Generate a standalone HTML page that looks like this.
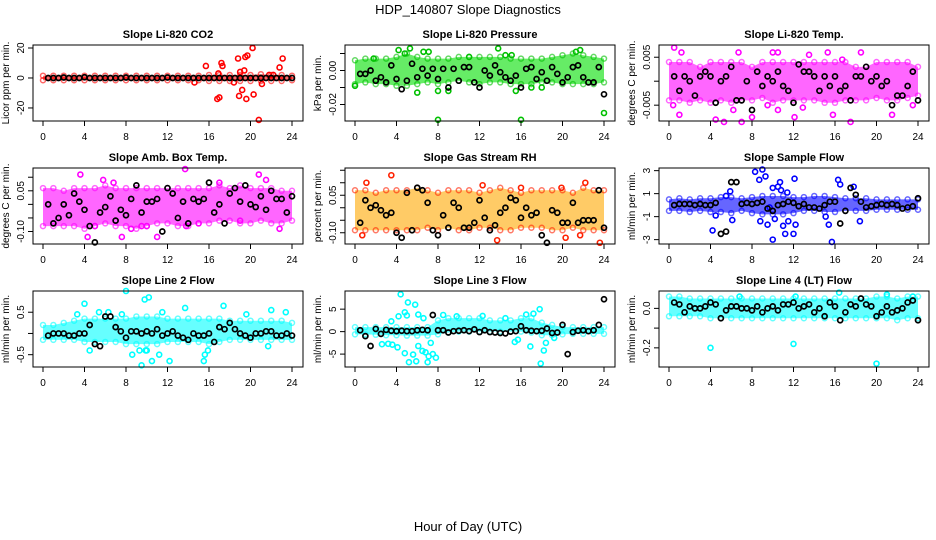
<!DOCTYPE html>
<html><head><meta charset="utf-8"><style>
html,body{margin:0;padding:0;background:#fff;}
svg{display:block;font-family:"Liberation Sans",sans-serif;}
</style></head><body>
<svg id="chart" width="936" height="540" viewBox="0 0 936 540" xmlns="http://www.w3.org/2000/svg">
<rect width="936" height="540" fill="#fff"/>
<text x="468" y="14" font-size="13" text-anchor="middle">HDP_140807  Slope Diagnostics</text>
<text x="468" y="531" font-size="13" text-anchor="middle">Hour of Day (UTC)</text>
</svg>
<script>
const blackHours=[0.5,1,1.5,2,2.5,3,3.5,4,4.5,5,5.5,6,6.5,7,7.5,8,8.5,9,9.5,10,10.5,11,11.5,12,12.5,13,13.5,14,14.5,15,15.5,16,16.5,17,17.5,18,18.5,19,19.5,20,20.5,21,21.5,22,22.5,23,23.5,24];
const bandHours=[0,1,2,3,4,5,6,7,8,9,10,11,12,13,14,15,16,17,18,19,20,21,22,23,24];
const xTicks=[0,4,8,12,16,20,24];

const titles=["Slope Li-820 CO2","Slope Li-820 Pressure","Slope Li-820 Temp.","Slope Amb. Box Temp.","Slope Gas Stream RH","Slope Sample Flow","Slope Line 2 Flow","Slope Line 3 Flow","Slope Line 4 (LT) Flow"];
const yTitles=["Licor ppm per min.","kPa per min.","degrees C per min.","degrees C per min.","percent per min.","ml/min per min.","ml/min per min.","ml/min per min.","ml/min per min."];
const yMin=[-28.7,-0.0297,-0.0083,-0.146,-0.145,-3.38,-0.79,-7.87,-0.297];
const yMax=[22,0.015,0.00755,0.134,0.159,3.23,1.0,9.04,0.088];
const yTicks=[[-20,0,20],[0.01,0,-0.01,-0.02],[0.005,0,-0.005],[0.10,0.05,0,-0.05,-0.10],[0.15,0.10,0.05,0,-0.05,-0.10],[3,1,-1,-3],[0.5,0,-0.5],[5,0,-5],[0,-0.1,-0.2]];
const yTickLabels=[["-20","0","20"],["","0.00","","-0.02"],["0.005","","-0.005"],["","0.05","","","-0.10"],["","","0.05","","","-0.10"],["3","1","-1","-3"],["0.5","","-0.5"],["5","0","-5"],["0.0","","-0.2"]];
const colors=["#ff0000","#00e000","#ff00ff","#ff00ff","#ffa800","#0000ff","#00ffff","#00ffff","#00ffff"];
const edgeColors=["#ff0000","#00c000","#ff00ff","#ff00ff","#ff2000","#0000ff","#00ffff","#00ffff","#00ffff"];

const bandLo=[
[-1.5,-1.5,-1.5,-1.5,-1.5,-1.5,-1.5,-1.5,-1.5,-1.5,-1.5,-1.5,-1.5,-1.5,-1.5,-1.5,-2,-2,-2,-2,-2,-2,-2,-2,-1.5],
[-0.008,-0.007,-0.008,-0.008,-0.009,-0.009,-0.008,-0.007,-0.008,-0.007,-0.006,-0.007,-0.008,-0.007,-0.007,-0.008,-0.008,-0.008,-0.007,-0.007,-0.008,-0.008,-0.008,-0.008,-0.007],
[-0.004,-0.004,-0.0045,-0.004,-0.0045,-0.004,-0.0045,-0.004,-0.004,-0.0035,-0.0045,-0.004,-0.004,-0.004,-0.004,-0.0045,-0.0045,-0.004,-0.004,-0.004,-0.0035,-0.004,-0.004,-0.0035,-0.003],
[-0.08,-0.08,-0.08,-0.08,-0.09,-0.08,-0.07,-0.08,-0.08,-0.09,-0.08,-0.07,-0.07,-0.08,-0.08,-0.07,-0.07,-0.06,-0.06,-0.07,-0.07,-0.06,-0.07,-0.07,-0.06],
[-0.09,-0.09,-0.09,-0.09,-0.09,-0.09,-0.09,-0.08,-0.09,-0.08,-0.09,-0.09,-0.08,-0.08,-0.09,-0.09,-0.08,-0.08,-0.08,-0.09,-0.09,-0.08,-0.09,-0.09,-0.09],
[-0.5,-0.5,-0.6,-0.5,-0.6,-0.6,-0.7,-0.5,-0.7,-0.8,-0.8,-0.8,-0.7,-0.5,-0.5,-0.6,-0.6,-0.5,-0.5,-0.5,-0.4,-0.4,-0.4,-0.4,-0.4],
[-0.15,-0.15,-0.15,-0.15,-0.2,-0.2,-0.2,-0.2,-0.25,-0.25,-0.25,-0.25,-0.2,-0.2,-0.2,-0.2,-0.25,-0.2,-0.15,-0.15,-0.15,-0.15,-0.15,-0.15,-0.15],
[-0.6,-0.6,-0.7,-0.8,-0.8,-0.9,-0.9,-0.9,-0.6,-0.2,0,0,0,0,0,0,0,-0.2,-0.8,-0.8,-0.6,-0.5,-0.5,-0.5,-0.5],
[-0.04,-0.04,-0.04,-0.04,-0.05,-0.05,-0.05,-0.05,-0.05,-0.05,-0.05,-0.05,-0.05,-0.05,-0.05,-0.05,-0.05,-0.05,-0.05,-0.05,-0.05,-0.05,-0.06,-0.05,-0.05]];
const bandHi=[
[1.5,1.5,1.5,1.5,1.5,1.5,1.5,1.5,1.5,1.5,1.5,1.5,1.5,1.5,1.5,1.5,2,2,2,2,2,2.5,2,2,1.5],
[0.006,0.007,0.007,0.007,0.008,0.010,0.008,0.007,0.007,0.007,0.008,0.008,0.008,0.008,0.008,0.007,0.007,0.007,0.007,0.008,0.009,0.010,0.009,0.008,0.007],
[0.004,0.004,0.004,0.003,0.004,0.004,0.004,0.004,0.003,0.004,0.004,0.004,0.004,0.004,0.004,0.004,0.004,0.004,0.003,0.003,0.004,0.004,0.004,0.004,0.003],
[0.06,0.06,0.05,0.06,0.06,0.06,0.07,0.06,0.06,0.06,0.06,0.06,0.06,0.06,0.06,0.06,0.06,0.07,0.06,0.07,0.06,0.06,0.06,0.05,0.05],
[0.07,0.07,0.06,0.07,0.07,0.07,0.08,0.07,0.06,0.07,0.07,0.07,0.06,0.07,0.08,0.07,0.06,0.07,0.07,0.07,0.07,0.06,0.08,0.07,0.07],
[0.5,0.6,0.5,0.6,0.6,0.7,0.7,0.6,0.7,0.8,0.8,0.8,0.7,0.7,0.8,0.8,0.7,0.6,0.6,0.6,0.5,0.5,0.5,0.5,0.5],
[0.2,0.2,0.25,0.3,0.35,0.35,0.35,0.35,0.35,0.4,0.4,0.4,0.35,0.35,0.35,0.35,0.35,0.35,0.3,0.3,0.3,0.3,0.3,0.3,0.25],
[1,1,1,1,1,1,1,1,2.5,3,3,3,3,2.5,2.5,2.5,3,3,2,1.5,1,1,1,1,1],
[0.06,0.06,0.05,0.05,0.05,0.05,0.05,0.05,0.05,0.05,0.05,0.05,0.05,0.05,0.05,0.05,0.05,0.05,0.05,0.05,0.06,0.06,0.05,0.06,0.06]];

const outHours=[
[15.7,16.8,17,17.2,17.3,18.8,18.9,19,19.2,19.5,19.6,19.7,20.2,20.3,20.8,21.1,22.8,23.1,14.6,16.9,21.8,22.2,18.4,19.4],
[0,5.3,6,8,8,9,13.8,16,21.7,21.3,24,17,18,14.5,15.1,4.2,4.8,6.6,7.1,15.5,1.8,11],
[0.5,1.2,0.4,1,4.5,5.3,6.2,7,8,9.5,10.5,12.1,12.9,15.3,15.8,17.5,18.5,21.5,23.5,10,10.5,13.5,6.7,16.7],
[3.6,4.3,5.8,6.8,7.6,8.5,9.5,11,13.7,17,20.8,22.8,21.5,5,13.8,19,10,15],
[3.5,22.2,23.6,13.7,20.3,1.1,16,19.9,0.7,21.7,12.3],
[4.2,4.5,5.5,5.9,6.1,8.3,8.7,9,9.3,8.8,9.5,10,10.2,10.5,10.8,11,11.2,11.5,12.1,12.2,12,10,11.4,15.4,15.7,16.3,16.5,18.4,17.8,15.1,9.7,10.7],
[4,4.5,8,8.6,9.5,9.3,9.8,10.2,10.5,11.2,12.2,13.7,15.5,15.9,15.6,17.4,19.6,21.7,22,23.4,3.3,5.4,6.3,7.6,11.5,9.9,10],
[4.4,5.1,5.8,4.2,4.8,5,6.1,6.6,3.5,2.6,3.2,3.6,4.1,4.8,5.2,5.6,5.9,6.1,6.5,7,7.1,7.5,7.8,6.8,7.3,17.8,17.9,18.2,18.4,16.9,15.4,15.7,12.3,14.5,19.2,16.5,17.2,8.5,9.8],
[4,12,20,16.4,21,23.5,6.8,12.2]];
const outValues=[
[8,-14,-13,10,8,13,-12,4,-8,14,-14,15,20,-11,-28,-4,7,13,-3,3,2,2,-3,5],
[-0.009,0.013,-0.013,-0.012,-0.029,-0.012,0.013,-0.029,0.012,0.011,-0.025,-0.010,-0.010,0.009,0.009,0.012,0.010,0.011,0.011,-0.012,0.007,0.008],
[0.007,0.006,-0.005,-0.007,-0.008,-0.0085,-0.006,-0.0085,-0.0075,-0.005,-0.006,-0.0075,-0.0055,0.006,-0.007,-0.0085,0.006,-0.007,-0.005,0.006,0.006,0.0055,0.006,0.0045],
[0.11,-0.12,0.09,0.08,-0.12,-0.09,-0.08,-0.12,0.13,0.08,0.11,-0.09,0.09,-0.08,-0.08,-0.06,-0.08,-0.07],
[0.13,0.10,-0.14,-0.13,-0.12,0.10,0.08,0.08,-0.11,-0.11,0.09],
[-2.2,-0.9,0.8,1.2,-1.3,2.9,2.2,3.1,2.5,-1.4,-1.7,-3.0,-1.2,1.6,1.3,-1.8,-2.5,-1.4,2.3,-1.7,-2.5,1.5,1.1,-1.7,-3.2,2.2,1.8,-1.4,1.6,-1.0,-0.2,2.0],
[0.7,-0.4,1.0,-0.5,-0.75,-0.4,0.8,0.85,-0.65,-0.5,-0.65,0.6,-0.65,-0.4,-0.5,0.65,0.45,-0.3,0.55,0.5,0.45,0.5,0.5,0.45,0.5,-0.4,-0.4],
[8.3,6.5,6,3.4,4.3,3.6,3.8,3.0,2.3,-2.8,-2.7,-2.9,-3.5,-4.8,-6.8,-5.1,-6.6,-3.2,-4.3,-6.8,-5.5,-5,-5.8,-4.6,-2.5,5,-7.1,-4.2,-2.5,-3.3,-2.3,-1.8,3.5,3.0,-1.4,3.8,4.0,3.7,3.4],
[-0.2,-0.18,-0.28,0.08,0.07,0.06,0.06,0.06]];

const blackValues=[
[0,0,0,0.3,0,0,0,0.5,0,0,0,0,0,0,0,0.3,0,0,0,0,0,0,0,0.3,0,0,0,0,0,0,0,0,0,0,0,0,0,0,0,0,0,0,0,0,0,0,0,0],
[-0.002,-0.002,0.0,-0.006,-0.004,-0.007,0.003,-0.005,-0.011,-0.006,0.004,-0.004,0.001,-0.003,0.001,-0.005,0.001,-0.010,0.001,-0.006,0.002,0.002,-0.007,-0.010,0.0,-0.003,0.003,-0.001,-0.004,-0.006,-0.003,-0.010,0.001,0.002,-0.005,-0.001,-0.006,0.002,-0.002,-0.007,-0.004,0.002,0.003,-0.004,-0.007,-0.007,0.002,-0.014],
[0.001,-0.002,0.001,0.0,-0.003,0.001,0.002,0.001,-0.0045,0.0,0.001,0.003,-0.004,-0.004,0.0,-0.006,0.002,-0.001,0.001,0.0,0.002,-0.001,-0.002,-0.0045,0.0035,0.002,0.002,0.001,-0.002,0.001,-0.001,0.001,-0.002,-0.001,-0.004,0.001,0.001,0.003,0.0,0.001,-0.001,0.0,-0.005,-0.003,-0.003,-0.001,0.002,-0.004],
[0.0,-0.07,-0.05,0.0,-0.04,0.04,0.01,-0.02,-0.08,-0.14,-0.03,-0.01,0.03,-0.06,-0.02,-0.04,0.02,0.07,-0.03,0.01,0.01,0.02,-0.10,0.06,0.04,-0.05,0.01,-0.07,0.02,0.01,0.02,0.08,-0.03,0.0,-0.07,0.04,0.06,0.01,0.07,0.0,-0.01,0.03,-0.02,0.05,0.02,0.02,-0.03,0.03],
[-0.06,0.03,0.0,0.01,-0.01,-0.03,-0.02,-0.10,-0.12,0.06,-0.09,0.08,0.07,0.02,-0.09,-0.11,-0.03,-0.08,0.02,0.0,-0.08,-0.08,-0.06,0.03,-0.04,-0.09,-0.07,-0.02,0.0,0.04,0.03,-0.04,0.0,-0.03,-0.02,-0.11,-0.14,-0.01,-0.02,-0.06,-0.06,0.02,-0.06,-0.05,-0.05,-0.05,0.07,-0.08],
[0,0.1,0.1,0.1,0,0.1,0,0,0.2,-2.5,-2.3,2.0,2.0,0.1,0.2,0.1,0.2,0.3,-0.3,-0.5,0,0.1,0.3,0.2,-0.1,0.1,-0.2,-0.2,-0.3,0,0.3,0.3,-1.6,-0.5,1.5,0.9,0.3,-0.2,-0.1,0,0.1,0,0.1,0,-0.3,-0.2,-0.1,0.6],
[-0.05,0,0,0,-0.05,-0.05,0,0,0.2,-0.25,-0.3,0.4,0.4,0.15,0.05,-0.1,0.05,0.05,0,0.05,0,0.1,-0.05,0,0.05,-0.05,-0.1,-0.15,0,-0.05,-0.05,0,-0.2,0.15,0.1,0.25,0.1,0,-0.05,-0.1,0,0,0.05,0.05,-0.05,-0.05,0,-0.05],
[0.3,-1,-3.2,0.6,-0.5,0.4,0.2,0.1,0.2,0.1,0.1,0.3,0.4,0.3,3.7,0.3,0.3,-0.2,0.1,0.2,0.3,0.1,0.5,-0.1,0.3,-0.1,-0.2,-0.3,-0.4,0,0.1,1.2,0.3,0.2,0.1,0.2,0.7,-0.3,-0.2,1.5,-5,-0.1,0.2,0.3,0.1,0.3,1.5,7.2],
[0.03,0.02,-0.02,0.01,0,0,0.01,0.03,0.02,-0.05,-0.01,0.01,0.01,0,0,-0.01,0.01,-0.02,0,0.01,-0.01,0.02,0.02,0.03,0,0.01,0.02,-0.02,0,-0.04,0.03,0.01,-0.06,-0.02,0.02,0.01,0.05,0.02,0.01,-0.04,-0.02,0.01,-0.02,-0.01,0,0.03,0.04,-0.06]];

const NS="http://www.w3.org/2000/svg";
const svg=document.getElementById('chart');
function mk(tag,attrs,parent){const e=document.createElementNS(NS,tag);for(const k in attrs)e.setAttribute(k,attrs[k]);(parent||svg).appendChild(e);return e;}
const colLeft=[33,345,659], rowTop=[45,168,291], PW=270, PH=76;

for(let p=0;p<9;p++){
  const L=colLeft[p%3], T=rowTop[Math.floor(p/3)], R=L+PW, B=T+PH;
  const g=mk('g',{});
  
  
  const xS=h=>L+10+(h/24)*(PW-21);
  const yS=v=>B-(v-yMin[p])/(yMax[p]-yMin[p])*PH;
  const title=mk('text',{x:(L+R)/2,y:T-7,'font-size':11,'font-weight':'bold','text-anchor':'middle'},g);
  title.textContent=titles[p];
  
  
  const yt=mk('text',{x:0,y:0,'font-size':10,'text-anchor':'middle',transform:`translate(${L-24},${(T+B)/2}) rotate(-90)`},g);
  yt.textContent=yTitles[p];
  
  
  let pts=bandHours.map((h,i)=>xS(h)+','+yS(bandHi[p][i]));
  pts=pts.concat(bandHours.map((h,i)=>xS(h)+','+yS(bandLo[p][i])).reverse());
  const band=mk('polygon',{points:pts.join(' '),fill:colors[p],'fill-opacity':0.6,stroke:'none'},g);
  
  
  bandHours.forEach((h,i)=>{
    [bandLo[p][i],bandHi[p][i]].forEach(v=>{
      const c=mk('circle',{cx:xS(h),cy:yS(v),r:2.5,fill:'none',stroke:edgeColors[p],'stroke-width':1.5,'stroke-opacity':0.6},g);
      
      
    });
  });
  outHours[p].forEach((h,i)=>{
    const c=mk('circle',{cx:xS(h),cy:yS(outValues[p][i]),r:2.5,fill:'none',stroke:edgeColors[p],'stroke-width':1.6},g);
    
    
  });
  const n=Math.min(blackHours.length,blackValues[p].length);
  for(let i=0;i<n;i++){
    const c=mk('circle',{cx:xS(blackHours[i]),cy:yS(blackValues[p][i]),r:2.5,fill:'none',stroke:'#000','stroke-width':1.7},g);
    
    
  }
  const box=mk('rect',{x:L,y:T,width:PW,height:PH,fill:'none',stroke:'#000','stroke-width':1},g);
  
  
  xTicks.forEach(t=>{
    mk('line',{x1:xS(t),x2:xS(t),y1:B,y2:B+5,stroke:'#000'},g);
    const tl=mk('text',{x:xS(t),y:B+19,'font-size':10,'text-anchor':'middle'},g);
    tl.textContent=t;
    
    
  });
  yTicks[p].forEach((t,i)=>{
    mk('line',{x1:L-5,x2:L,y1:yS(t),y2:yS(t),stroke:'#000'},g);
    const tl=mk('text',{x:0,y:0,'font-size':10,'text-anchor':'middle',transform:`translate(${L-9},${yS(t)}) rotate(-90)`},g);
    tl.textContent=yTickLabels[p][i];
    
    
  });
}
</script>
</body></html>
